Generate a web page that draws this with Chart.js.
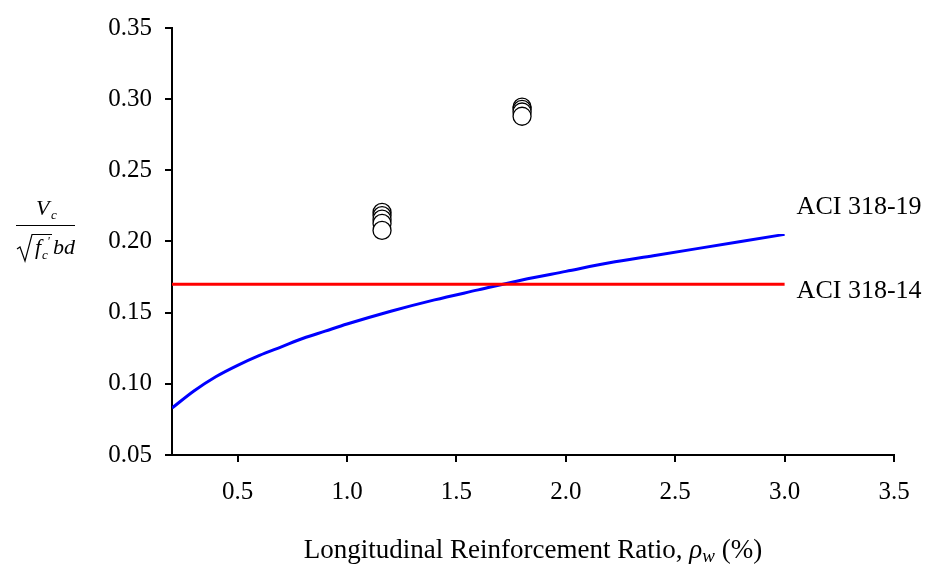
<!DOCTYPE html>
<html>
<head>
<meta charset="utf-8">
<script src="https://cdn.jsdelivr.net/npm/chart.js@4.4.0/dist/chart.umd.min.js"></script>
<style>
  html, body { margin: 0; padding: 0; background: #fff; }
  canvas { display: block; }
</style>
</head>
<body>
<canvas id="shearChart" width="926" height="565"></canvas>
<script>
// ACI 318-19 size-independent shear term vs. reinforcement ratio (%)
var rho19 = [0.2, 0.3, 0.4, 0.5, 0.6, 0.7, 0.8, 0.9, 1.0, 1.2, 1.4, 1.6, 1.8, 2.0, 2.2, 2.4, 2.6, 2.8, 3.0];
var vc19 = [0.083, 0.095, 0.105, 0.113, 0.120, 0.126, 0.132, 0.137, 0.142, 0.151, 0.159, 0.166, 0.173, 0.179, 0.185, 0.190, 0.195, 0.200, 0.205];

// ACI 318-14 constant value
var rho14 = [0.2, 3.0];
var vc14 = [0.17, 0.17];

// test results
var testRho = [1.16, 1.16, 1.16, 1.16, 1.16, 1.80, 1.80, 1.80, 1.80];
var testVc = [0.2205, 0.2182, 0.2157, 0.2127, 0.2078, 0.2944, 0.2928, 0.2910, 0.2880];

var yTicks = [0.05, 0.10, 0.15, 0.20, 0.25, 0.30, 0.35];
var xTicks = [0.5, 1.0, 1.5, 2.0, 2.5, 3.0, 3.5];

var SERIF = '"Liberation Serif", "Times New Roman", serif';

function toPoints(xs, ys) {
  return xs.map(function (x, i) { return { x: x, y: ys[i] }; });
}

// curve labels, y axis fraction and x axis title
var textPlugin = {
  id: "textPlugin",
  afterDraw: function (chart) {
    var ctx = chart.ctx;
    var xs = chart.scales.x;
    var ys = chart.scales.y;
    ctx.save();
    ctx.fillStyle = "#000";
    ctx.strokeStyle = "#000";

    // line labels
    ctx.font = "26px " + SERIF;
    ctx.textAlign = "left";
    ctx.textBaseline = "alphabetic";
    var xEnd = xs.getPixelForValue(rho19[rho19.length - 1]) + 12;
    ctx.fillText("ACI 318-19", xEnd, ys.getPixelForValue(vc19[vc19.length - 1]) - 20);
    ctx.fillText("ACI 318-14", xEnd, ys.getPixelForValue(vc14[1]) + 14);

    // x title
    var title = "Longitudinal Reinforcement Ratio, ";
    ctx.font = "27px " + SERIF;
    var w1 = ctx.measureText(title).width;
    ctx.font = "italic 27px " + SERIF;
    var w2 = ctx.measureText("\u03c1").width;
    ctx.font = "italic 19px " + SERIF;
    var w3 = ctx.measureText("w").width;
    ctx.font = "27px " + SERIF;
    var w4 = ctx.measureText(" (%)").width;
    var cx = (chart.chartArea.left + chart.chartArea.right) / 2;
    var x0 = cx - (w1 + w2 + w3 + w4) / 2;
    var by = 558;
    ctx.fillText(title, x0, by);
    ctx.font = "italic 27px " + SERIF;
    ctx.fillText("\u03c1", x0 + w1, by);
    ctx.font = "italic 19px " + SERIF;
    ctx.fillText("w", x0 + w1 + w2, by + 4);
    ctx.font = "27px " + SERIF;
    ctx.fillText(" (%)", x0 + w1 + w2 + w3, by);

    // y title: Vc / (sqrt(f'c) bd)
    ctx.font = "italic 22px " + SERIF;
    ctx.fillText("V", 36, 215);
    ctx.font = "italic 13px " + SERIF;
    ctx.fillText("c", 51, 219);
    ctx.lineWidth = 1.2;
    ctx.beginPath();
    ctx.moveTo(16, 225.5);
    ctx.lineTo(75, 225.5);
    ctx.stroke();
    ctx.beginPath();
    ctx.moveTo(17, 249);
    ctx.lineTo(20, 247);
    ctx.lineTo(25, 261);
    ctx.lineTo(32, 234.5);
    ctx.lineTo(52, 234.5);
    ctx.stroke();
    ctx.font = "italic 22px " + SERIF;
    ctx.fillText("f", 35, 254);
    ctx.font = "italic 13px " + SERIF;
    ctx.fillText("'", 47, 245);
    ctx.fillText("c", 42, 259);
    ctx.font = "italic 22px " + SERIF;
    ctx.fillText("bd", 53, 254);
    ctx.restore();
  },
};

var ctx = document.getElementById("shearChart").getContext("2d");

var shearChart = new Chart(ctx, {
  type: "scatter",
  data: {
    datasets: [
      {
        label: "ACI 318-14",
        data: toPoints(rho14, vc14),
        showLine: true,
        borderColor: "#ff0000",
        borderWidth: 3,
        pointRadius: 0,
        tension: 0,
      },
      {
        label: "ACI 318-19",
        data: toPoints(rho19, vc19),
        showLine: true,
        borderColor: "#0000ff",
        borderWidth: 3,
        pointRadius: 0,
        cubicInterpolationMode: "monotone",
      },
      {
        label: "Test",
        data: toPoints(testRho, testVc),
        pointRadius: 9,
        pointBorderWidth: 1.3,
        pointBorderColor: "#000",
        pointBackgroundColor: "#fff",
      },
    ],
  },
  options: {
    responsive: false,
    animation: false,
    layout: { padding: { top: 23, right: 32, left: 0, bottom: 0 } },
    plugins: {
      legend: { display: false },
      tooltip: { enabled: false },
    },
    scales: {
      x: {
        type: "linear",
        min: 0.2,
        max: 3.5,
        afterBuildTicks: function (scale) {
          scale.ticks = xTicks.map(function (v) { return { value: v }; });
        },
        afterFit: function (scale) {
          scale.height = 110;
        },
        ticks: {
          color: "#000",
          padding: 15,
          font: { family: SERIF, size: 25 },
          callback: function (v) { return Number(v).toFixed(1); },
        },
        grid: { drawOnChartArea: false, tickLength: 7, color: "#000", lineWidth: 2 },
        border: { color: "#000", width: 2 },
      },
      y: {
        min: 0.05,
        max: 0.35,
        afterBuildTicks: function (scale) {
          scale.ticks = yTicks.map(function (v) { return { value: v }; });
        },
        afterFit: function (scale) {
          scale.width = 172;
        },
        ticks: {
          color: "#000",
          padding: 13,
          font: { family: SERIF, size: 25 },
          callback: function (v) { return Number(v).toFixed(2); },
        },
        grid: { drawOnChartArea: false, tickLength: 7, color: "#000", lineWidth: 2 },
        border: { color: "#000", width: 2 },
      },
    },
  },
  plugins: [textPlugin],
});
</script>
</body>
</html>
